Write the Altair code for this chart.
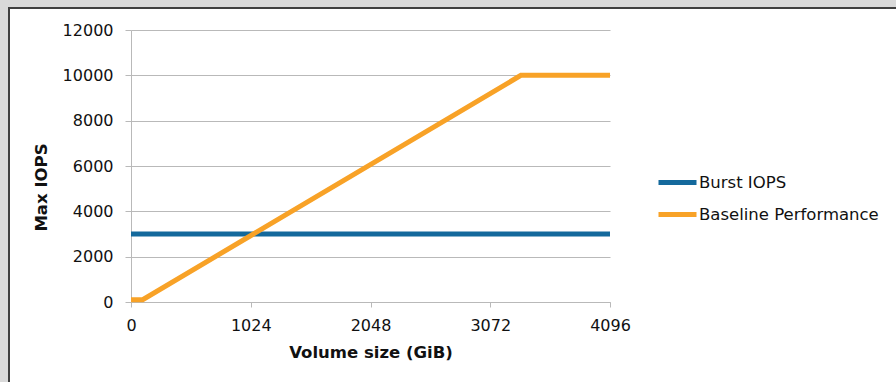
import altair as alt
import pandas as pd

# Volume size (GiB) and IOPS for each series
burst_gib = [0, 4096]
burst_iops = [3000, 3000]
baseline_gib = [0, 100, 3334, 4096]
baseline_iops = [100, 100, 10000, 10000]

series_names = ["Burst IOPS", "Baseline Performance"]
series_colors = ["#14699c", "#f8a227"]

x_ticks = [0, 1024, 2048, 3072, 4096]
y_ticks = [0, 2000, 4000, 6000, 8000, 10000, 12000]

FONT = "DejaVu Sans"
GRID = "#b9b9b9"

df = pd.concat(
    [
        pd.DataFrame({"gib": burst_gib, "iops": burst_iops, "series": series_names[0]}),
        pd.DataFrame({"gib": baseline_gib, "iops": baseline_iops, "series": series_names[1]}),
    ],
    ignore_index=True,
)

x_enc = alt.X(
    "gib:Q",
    scale=alt.Scale(domain=[0, 4096], nice=False, zero=False),
    axis=alt.Axis(
        values=x_ticks,
        format="d",
        labelFlush=False,
        title="Volume size (GiB)",
        grid=False,
        tickSize=5,
        labelPadding=10,
        titleBaseline="alphabetic",
        titleY=55,
    ),
)
y_enc = alt.Y(
    "iops:Q",
    scale=alt.Scale(domain=[0, 12000], nice=False),
    axis=alt.Axis(
        values=y_ticks,
        format="d",
        labelFlush=False,
        title="Max IOPS",
        grid=True,
        tickSize=6,
        labelPadding=12,
        titleAngle=-90,
        titleBaseline="alphabetic",
        titleAlign="center",
        titleX=-85,
        titleY=157,
    ),
)
color_enc = alt.Color(
    "series:N",
    scale=alt.Scale(domain=series_names, range=series_colors),
    sort=series_names,
    legend=alt.Legend(
        title=None,
        orient="none",
        legendX=525,
        legendY=131,
        symbolType="M-1,0H1",
        symbolSize=1444,
        symbolStrokeWidth=5,
        labelOffset=0,
        rowPadding=0,
        labelLimit=400,
        labelFontSize=16.5,
        labelFont=FONT,
        labelColor="#111111",
    ),
)

lines = [
    alt.Chart(df)
    .transform_filter(alt.datum.series == name)
    .mark_line(strokeWidth=5, strokeCap="butt", strokeJoin="miter")
    .encode(x=x_enc, y=y_enc, color=color_enc)
    for name in series_names
]

# Window frame: light grey margin with a dark edge along the top and left
one = pd.DataFrame({"k": [0]})
frame = [
    alt.Chart(one).mark_rect(color="#d9d9d9").encode(
        x=alt.value(-131), x2=alt.value(765), y=alt.value(-30), y2=alt.value(-23)),
    alt.Chart(one).mark_rect(color="#d9d9d9").encode(
        x=alt.value(-131), x2=alt.value(-123), y=alt.value(-23), y2=alt.value(352)),
    alt.Chart(one).mark_rect(color="#3f3f3f").encode(
        x=alt.value(-123), x2=alt.value(765), y=alt.value(-23), y2=alt.value(-21)),
    alt.Chart(one).mark_rect(color="#3f3f3f").encode(
        x=alt.value(-123), x2=alt.value(-121), y=alt.value(-21), y2=alt.value(352)),
]

chart = (
    alt.layer(*frame, *lines)
    .properties(
        width=479,
        height=272,
        autosize=alt.AutoSizeParams(type="none"),
        padding={"left": 131, "top": 30, "right": 286, "bottom": 80},
        background="white",
    )
    .configure_view(stroke=None)
    .configure_axis(
        labelFont=FONT,
        labelFontSize=16,
        labelColor="#111111",
        titleFont=FONT,
        titleFontSize=16.5,
        titleFontWeight="bold",
        titleColor="#111111",
        domainColor=GRID,
        tickColor=GRID,
        gridColor=GRID,
        domainWidth=1,
        tickWidth=1,
        gridWidth=1,
    )
)

chart.save("out.html", embed_options={"renderer": "svg", "actions": False})
